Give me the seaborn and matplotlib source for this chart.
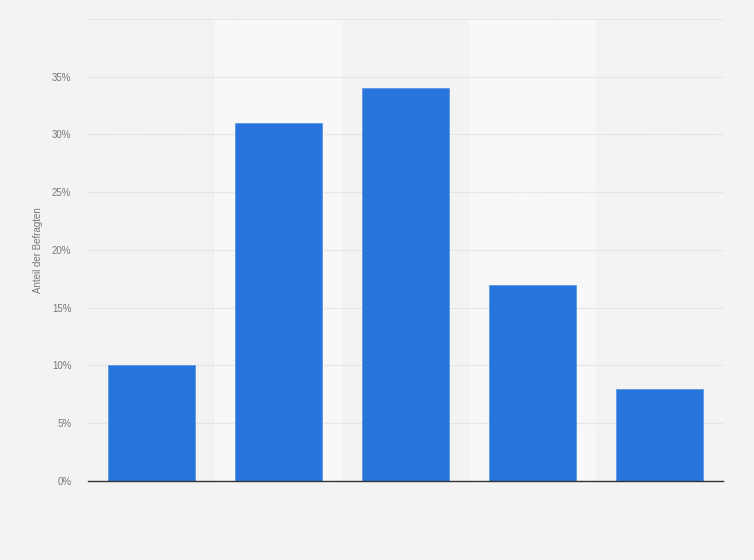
import pandas as pd
import matplotlib.pyplot as plt
import seaborn as sns
from matplotlib.ticker import FuncFormatter

sns.set_style("white")
plt.rcParams['font.family'] = ['Liberation Sans', 'DejaVu Sans']

# Data (category names not shown in the original)
categories = ['1', '2', '3', '4', '5']
shares = [10, 31, 34, 17, 8]

df = pd.DataFrame({'Kategorie': categories, 'Anteil': shares})

bg = '#f3f3f3'
fig = plt.figure(figsize=(7.54, 5.6), dpi=100, facecolor=bg)
ax = fig.add_axes([0.1167, 0.1411, 0.8422, 0.8250])
ax.set_facecolor(bg)

# lighter alternating column bands
for i in range(len(categories)):
    if i % 2 == 1:
        ax.axvspan(i - 0.5, i + 0.5, color='#f8f8f8', zorder=0, lw=0)

sns.barplot(data=df, x='Kategorie', y='Anteil', color='#2775db', width=0.69,
            saturation=1, ax=ax, zorder=3, edgecolor='#5b97e6', linewidth=0.6)

ax.set_xlim(-0.5, len(categories) - 0.5)
ax.set_ylim(0, 40)
ax.set_yticks(range(0, 41, 5))
ax.yaxis.set_major_formatter(FuncFormatter(lambda v, p: '' if v == 40 else f'{int(v)}%'))
ax.tick_params(axis='y', length=0, labelsize=7, labelcolor='#777777', pad=12)
ax.tick_params(axis='x', length=0)
ax.set_xticklabels([])
ax.set_xlabel('')
ax.set_ylabel('Anteil der Befragten', fontsize=7, color='#777777', labelpad=6)

ax.grid(axis='y', color='#d0d0d0', linestyle=(0, (1, 1.5)), linewidth=0.8, zorder=1)
ax.set_axisbelow(True)
for s in ['top', 'right', 'left']:
    ax.spines[s].set_visible(False)
ax.spines['bottom'].set_color('#333333')
ax.spines['bottom'].set_linewidth(1.0)
ax.spines['bottom'].set_zorder(4)

fig.savefig('out.png', dpi=100, facecolor=bg)
